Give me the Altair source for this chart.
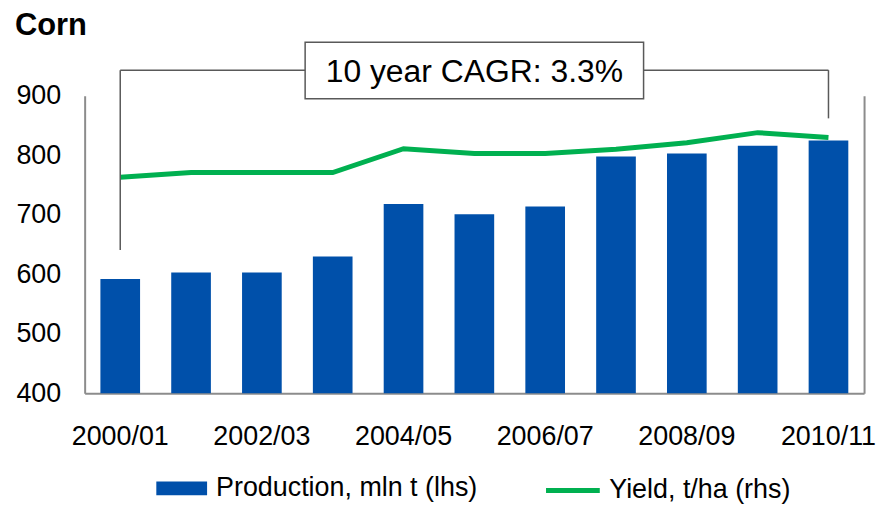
import altair as alt
import pandas as pd

# ---- data ----
seasons = ["2000/01", "2001/02", "2002/03", "2003/04", "2004/05", "2005/06",
           "2006/07", "2007/08", "2008/09", "2009/10", "2010/11"]
production = [592, 603, 603, 630, 718, 701, 714, 798, 803, 816, 825]
yield_line = [763, 771, 771, 771, 811, 803, 803, 810, 821, 838, 830]
x_tick_labels = ["2000/01", "2002/03", "2004/05", "2006/07", "2008/09", "2010/11"]
y_ticks = [400, 500, 600, 700, 800, 900]
prod_name = "Production, mln t (lhs)"
yield_name = "Yield, t/ha (rhs)"
cagr_text = "10 year CAGR: 3.3%"

# annotation bracket (data space)
br_left, br_right, br_mid = "2000/01", "2010/11", "2005/06"
br_top, br_left_bottom, br_right_bottom = 943, 641, 862
box_top, box_bottom, text_y = 990, 895, 940
base_value = 400

FONT = "Liberation Sans"
BLUE = "#0050AA"
GREEN = "#00B050"
GRAY = "#8c8c8c"
DARK = "#595959"

df = pd.DataFrame({"season": seasons, "production": production,
                   "yield": yield_line, "s1": prod_name, "s2": yield_name})

yscale = alt.Scale(domain=[400, 900], nice=False, zero=False)
xscale = alt.Scale(paddingInner=0.44, paddingOuter=0.2225)

xenc = alt.X("season:N", sort=seasons, scale=xscale,
             axis=alt.Axis(values=x_tick_labels, labelAngle=0, ticks=False,
                           title=None, domainColor=GRAY, domainWidth=2,
                           labelFontSize=27, labelPadding=30, labelColor="black",
                           labelFont=FONT))

bars = alt.Chart(df).mark_bar(opacity=1).encode(
    x=xenc,
    y=alt.Y("production:Q", scale=yscale,
            axis=alt.Axis(values=y_ticks, ticks=False, grid=False, title=None,
                          domainColor=GRAY, domainWidth=2, labelFontSize=27,
                          labelPadding=24, labelColor="black", labelFont=FONT)),
    y2=alt.Y2(datum=base_value),
    color=alt.Color("s1:N", scale=alt.Scale(domain=[prod_name], range=[BLUE]),
                    legend=alt.Legend(title=None, orient="none", legendX=72, legendY=369,
                                      symbolType="M-1,-0.27H1V0.27H-1Z", symbolSize=2601,
                                      symbolStrokeWidth=0, symbolOpacity=1,
                                      labelFontSize=27, labelFont=FONT, labelOffset=9,
                                      labelLimit=500, labelColor="black")),
)

line = alt.Chart(df).mark_line(strokeWidth=5).encode(
    x=alt.X("season:N", sort=seasons),
    y=alt.Y("yield:Q", scale=yscale,
            axis=alt.Axis(orient="right", labels=False, ticks=False, grid=False,
                          title=None, domainColor=GRAY, domainWidth=2)),
    stroke=alt.Stroke("s2:N", scale=alt.Scale(domain=[yield_name], range=[GREEN]),
                      legend=alt.Legend(title=None, orient="none", legendX=461, legendY=367,
                                        symbolType="stroke", symbolSize=2916,
                                        symbolStrokeWidth=5, labelFontSize=27,
                                        labelFont=FONT, labelOffset=7,
                                        labelLimit=500, labelColor="black")),
)

rule_left = alt.Chart(pd.DataFrame({"x": [br_left], "y": [br_left_bottom], "y2": [br_top]})).mark_rule(
    color=DARK, strokeWidth=1.5).encode(
    x=alt.X("x:N", sort=seasons), y=alt.Y("y:Q", scale=yscale, axis=None), y2="y2")

rule_right = alt.Chart(pd.DataFrame({"x": [br_right], "y": [br_right_bottom], "y2": [br_top]})).mark_rule(
    color=DARK, strokeWidth=1.5).encode(
    x=alt.X("x:N", sort=seasons), y=alt.Y("y:Q", scale=yscale, axis=None), y2="y2")

rule_top = alt.Chart(pd.DataFrame({"x": [br_left], "x2": [br_right], "y": [br_top]})).mark_rule(
    color=DARK, strokeWidth=1.5).encode(
    x=alt.X("x:N", sort=seasons), x2="x2", y=alt.Y("y:Q", scale=yscale, axis=None))

box = alt.Chart(pd.DataFrame({"x": [br_mid], "y": [box_top], "y2": [box_bottom]})).mark_bar(
    width=340, fill="white", stroke=DARK, strokeWidth=1.5).encode(
    x=alt.X("x:N", sort=seasons), y=alt.Y("y:Q", scale=yscale, axis=None), y2="y2")

label = alt.Chart(pd.DataFrame({"x": [br_mid], "y": [text_y], "t": [cagr_text]})).mark_text(
    fontSize=32, font=FONT, baseline="middle", align="center", color="black").encode(
    x=alt.X("x:N", sort=seasons), y=alt.Y("y:Q", scale=yscale, axis=None), text="t:N")

chart = alt.layer(bars, line, rule_left, rule_right, rule_top, box, label).resolve_scale(
    y="independent"
).properties(
    width=783, height=299,
    title=alt.TitleParams("Corn", anchor="start", frame="group", fontSize=31,
                          fontWeight="bold", font=FONT, color="black", dx=-70, dy=5),
    autosize=alt.AutoSizeParams(type="none"),
    padding={"left": 77, "top": 87, "right": 14, "bottom": 110},
).configure(font=FONT).configure_view(stroke=None)

chart.save("out.html", embed_options={"renderer": "svg", "actions": False})
